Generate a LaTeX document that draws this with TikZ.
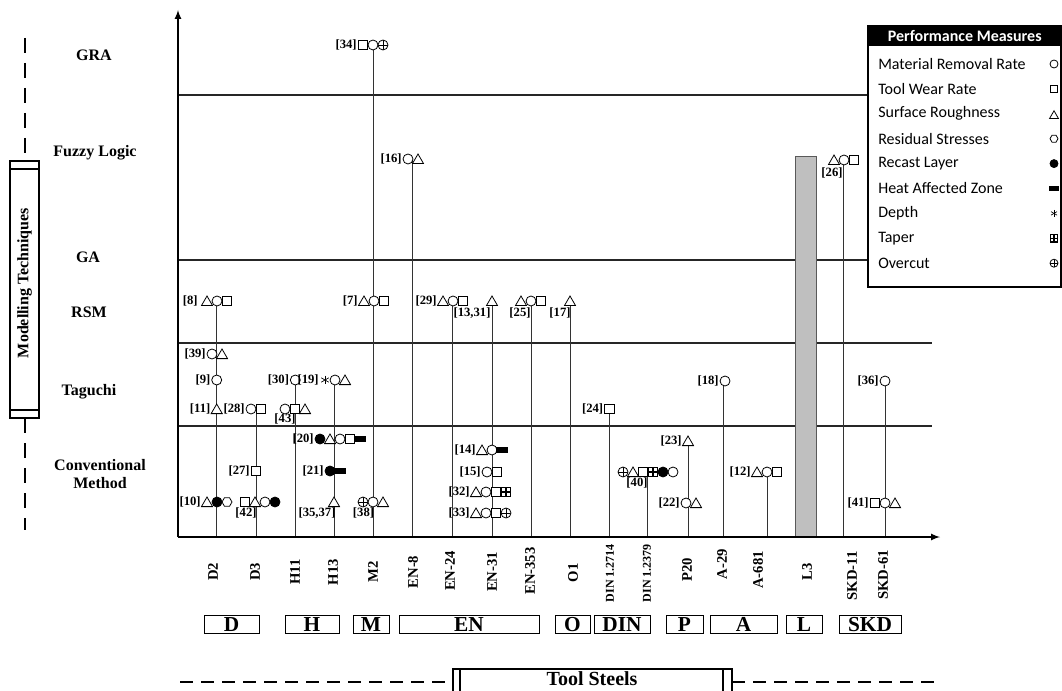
\documentclass[tikz,border=0pt]{standalone}
\usepackage{fontspec}
\setmainfont{Liberation Serif}
\newfontfamily\legfont{Carlito}
\usetikzlibrary{shapes.geometric}

\tikzset{
  sym/.style={draw, fill=white, inner sep=0pt, line width=0.6pt},
  mrr/.style={sym, circle, minimum size=7.5pt},
  twr/.style={sym, rectangle, minimum size=7.2pt},
  sr/.style={sym, regular polygon, regular polygon sides=3, minimum size=9.6pt, anchor=south, yshift=-3.75pt},
  rs/.style={sym, regular polygon, regular polygon sides=6, minimum size=7.5pt},
  rl/.style={sym, circle, fill=black, minimum size=7.5pt},
  haz/.style={sym, rectangle, fill=black, minimum width=8.5pt, minimum height=3.6pt},
  dep/.style={inner sep=0pt, minimum size=7pt, path picture={
      \foreach \a in {90,30,-30}
        \draw[line width=0.5pt] (path picture bounding box.center) ++(\a:3.3pt) -- ++(\a+180:6.6pt);}},
  tap/.style={sym, rectangle, minimum size=7pt, line width=1pt, path picture={
      \draw[line width=1pt] (path picture bounding box.north) -- (path picture bounding box.south)
        (path picture bounding box.west) -- (path picture bounding box.east);}},
  ovc/.style={sym, circle, minimum size=7.5pt, path picture={
      \draw[line width=0.6pt] (path picture bounding box.north) -- (path picture bounding box.south)
        (path picture bounding box.west) -- (path picture bounding box.east);}},
  ref/.style={font=\fontsize{9.5}{9.5}\selectfont\bfseries, inner sep=0.8pt},
  tech/.style={font=\fontsize{12}{13}\selectfont\bfseries, align=center, inner sep=0pt},
  steel/.style={font=\fontsize{11}{11}\selectfont\bfseries, rotate=90, inner sep=0pt},
  grp/.style={draw, line width=0.6pt, minimum height=14pt, inner sep=0pt, font=\fontsize{16}{16}\selectfont\bfseries},
  legtext/.style={font=\legfont\fontsize{12}{12}\selectfont, inner sep=0pt, anchor=west},
  grid/.style={line width=1pt, black!85},
  axis/.style={line width=1.3pt},
  stem/.style={line width=0.6pt, black!80},
  frame/.style={line width=0.9pt},
  vdash/.style={line width=1.2pt, dash pattern=on 11.25pt off 7.5pt},
  hdash/.style={line width=1.2pt, dash pattern=on 9.75pt off 6pt},
}

% a row of symbols, label on the left
\newcommand{\refrow}[5]{%
  \foreach \s [count=\k from 0] in {#4}{\node[\s] (#1-\k) at (#2+10*\k,#3) {};}
  \node[ref, anchor=east] (#1-lab) at (#2-5,#3) {#5};}
% a row of symbols, label placed by hand
\newcommand{\symrow}[4]{%
  \foreach \s [count=\k from 0] in {#4}{\node[\s] (#1-\k) at (#2+10*\k,#3) {};}}

\begin{document}
\begin{tikzpicture}[x=0.75pt, y=-0.75pt]
\useasboundingbox (0,0) rectangle (1062,691);

% modelling techniques
\draw[vdash] (25,38) -- (25,161);
\draw[vdash] (25,418) -- (25,530);
\draw[frame] (10,161) rectangle (39,418);
\draw[frame] (10,169) -- (39,169) (10,410) -- (39,410);
\node[tech, rotate=90] (mt) at (24.5,283) {Modelling Techniques};

\node[tech] (tGRA) at (94,55) {GRA};
\node[tech] (tFL) at (95,153) {Fuzzy Logic};
\node[tech] (tGA) at (88,257) {GA};
\node[tech] (tRSM) at (89,312) {RSM};
\node[tech] (tTag) at (89,392) {Taguchi};
\node[tech] (tCon) at (100,474) {Conventional\\Method};

% grid
\draw[grid] (178,95) -- (868,95);
\draw[grid] (178,260) -- (868,260);
\draw[grid] (178,343) -- (932,343);
\draw[grid] (178,426) -- (932,426);

% stems
\foreach \c/\x/\y in {D2/216.7/301, D3/256/409, H11/295.3/380, H13/334/380, M2/373.5/45,
    EN8/412.7/159, EN24/452.5/301, EN31/492/301, EN353/531/301, O1/570/301, DINa/609.5/409,
    DINb/647/472, P20/688/441, A29/723.3/381, A681/767/472, SKD11/843.5/160, SKD61/885/381}
  {\coordinate (t\c) at (\x,\y); \coordinate (b\c) at (\x,537); \draw[stem] (t\c) -- (b\c);}

% L3
\draw[fill=gray!50, draw=gray!70!black, line width=0.6pt] (795,156) rectangle (816,537);

% axes
\draw[axis,-latex] (178,537) -- (178,10);
\draw[axis,-latex] (178,537) -- (940,537);

% GRA
\refrow{r34}{363}{45}{twr,mrr,ovc}{[34]}
% fuzzy logic
\refrow{r16}{408}{159}{mrr,sr}{[16]}
\symrow{r26}{834}{160}{sr,mrr,twr}
\node[ref] (r26-lab) at (832,173) {[26]};
% RSM
\symrow{r8}{207}{301}{sr,mrr,twr}
\node[ref, anchor=east] (r8-lab) at (199,301) {[8]};
\refrow{r7}{364}{301}{sr,mrr,twr}{[7]}
\refrow{r29}{443}{301}{sr,mrr,twr}{[29]}
\symrow{r1331}{492}{301}{sr}
\node[ref] (r1331-lab) at (472,313) {[13,31]};
\symrow{r25}{521}{301}{sr,mrr,twr}
\node[ref] (r25-lab) at (520,313) {[25]};
\symrow{r17}{570}{301}{sr}
\node[ref] (r17-lab) at (560,313) {[17]};
% Taguchi
\refrow{r39}{212}{354}{mrr,sr}{[39]}
\refrow{r9}{216.7}{380}{mrr}{[9]}
\refrow{r11}{216.7}{409}{sr}{[11]}
\refrow{r28}{251}{409}{mrr,twr}{[28]}
\refrow{r30}{295.3}{380}{mrr}{[30]}
\symrow{r43}{285}{409}{mrr,twr,sr}
\node[ref] (r43-lab) at (285,419) {[43]};
\refrow{r19}{325}{380}{dep,mrr,sr}{[19]}
\refrow{r24}{609.5}{409}{twr}{[24]}
\refrow{r18}{725}{381}{mrr}{[18]}
\refrow{r36}{885}{381}{mrr}{[36]}
% conventional
\refrow{r10}{207}{502}{sr,rl,rs}{[10]}
\refrow{r27}{256}{471}{twr}{[27]}
\symrow{r42}{245}{502}{twr,sr,mrr,rl}
\node[ref] (r42-lab) at (246,513) {[42]};
\refrow{r20}{320}{439}{rl,sr,mrr,twr,haz}{[20]}
\refrow{r21}{330}{471}{rl,haz}{[21]}
\symrow{r3537}{334}{502}{sr}
\node[ref] (r3537-lab) at (317,513) {[35,37]};
\symrow{r38}{363}{502}{ovc,mrr,sr}
\node[ref] (r38-lab) at (363.5,513) {[38]};
\refrow{r14}{482}{450}{sr,mrr,haz}{[14]}
\refrow{r15}{487}{472}{mrr,twr}{[15]}
\refrow{r32}{476}{492}{sr,mrr,twr,tap}{[32]}
\refrow{r33}{476}{513}{sr,mrr,twr,ovc}{[33]}
\symrow{r40}{623}{472}{ovc,sr,twr,tap,rl,mrr}
\node[ref] (r40-lab) at (637,483) {[40]};
\refrow{r23}{688}{441}{sr}{[23]}
\refrow{r22}{686}{503}{mrr,sr}{[22]}
\refrow{r12}{757}{472}{sr,mrr,twr}{[12]}
\refrow{r41}{875}{503}{twr,mrr,sr}{[41]}

% tool steels
\foreach \c/\x/\y in {D2/213/572, D3/255/572, H11/295/572, H13/333/572, M2/373/572,
    EN-8/413/572, EN-24/450/571, EN-31/492/572, EN-353/530/571, O1/573/573, P20/687/570,
    A-29/722/564, A-681/758/570, L3/807/572, SKD-11/852/576, SKD-61/883/575}
  \node[steel] (n\c) at (\x,\y) {\c};
\node[steel, font=\fontsize{9}{9}\selectfont\bfseries] (nDINa) at (610,573) {DIN 1.2714};
\node[steel, font=\fontsize{9}{9}\selectfont\bfseries] (nDINb) at (647,573) {DIN 1.2379};

\foreach \g/\xa/\xb in {D/204/259, H/285/339, M/353/389, EN/399/539, O/555/590,
    DIN/594/650, P/666/703, A/710/777, L/786/822, SKD/839/901}
  \node[grp, minimum width={(\xb-\xa)*0.75pt}] (g\g) at ({(\xa+\xb)/2},624.5) {\g};

\draw[hdash] (180,682) -- (453,682);
\draw[hdash] (732,682) -- (940,682);
\draw[frame] (453,691) |- (732,669) -- (732,691);
\draw[frame] (460,669) -- (460,691) (723,669) -- (723,691);
\node[font=\fontsize{15}{15}\selectfont\bfseries] (ts) at (592,679) {Tool Steels};

% legend
\draw[frame] (868,26) rectangle (1061,287);
\node[fill=black, text=white, anchor=north west, minimum width=144.75pt, minimum height=15pt,
  inner sep=0pt, font=\legfont\fontsize{12}{12}\selectfont\bfseries] (head) at (868,26) {Performance Measures};
\foreach \txt/\sym [count=\i from 0] in {Material Removal Rate/mrr, Tool Wear Rate/twr,
    Surface Roughness/sr, Residual Stresses/rs, Recast Layer/rl, Heat Affected Zone/haz,
    Depth/dep, Taper/tap, Overcut/ovc}
  {\node[legtext] (leg\i) at (878,64+24.9*\i) {\txt};
   \node[\sym, scale=0.8] (legs\i) at (1054,64+24.9*\i) {};}
\end{tikzpicture}
\end{document}
